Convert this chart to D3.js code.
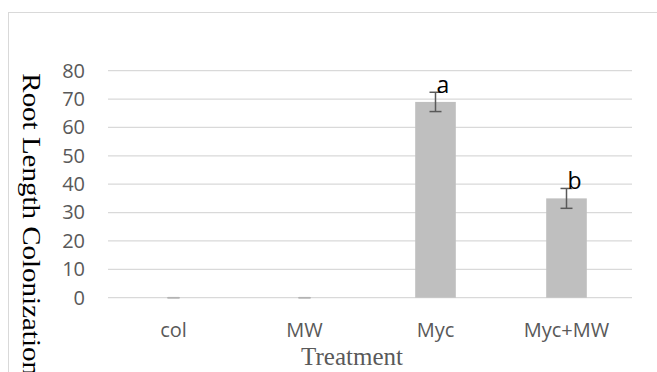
<!DOCTYPE html>
<html>
<head>
<meta charset="utf-8">
<script src="https://cdn.jsdelivr.net/npm/d3@7/dist/d3.min.js"></script>
<style>
  html, body { margin: 0; padding: 0; background: #fff; }
  svg { display: block; }
</style>
</head>
<body>
<svg id="chart" width="657" height="372"></svg>
<script>
// Root length colonization by treatment (mean ± error, letters = significance groups)
const categories = ["col", "MW", "Myc", "Myc+MW"];
const values = [0, 0, 69, 35];
const errors = [0, 0, 3.4, 3.5];
const groupLetters = ["", "", "a", "b"];
const yTicks = [0, 10, 20, 30, 40, 50, 60, 70, 80];

const svg = d3.select("#chart");

// outer chart frame
svg.append("rect")
  .attr("x", 8.5).attr("y", 12.5)
  .attr("width", 700).attr("height", 420)
  .attr("fill", "#fff")
  .attr("stroke", "#d9d9d9")
  .attr("stroke-width", 1);

const plot = { left: 108, right: 632, top: 70.7, bottom: 297.7 };

const x = d3.scaleBand()
  .domain(categories)
  .range([plot.left, plot.right])
  .padding(0);

const y = d3.scaleLinear()
  .domain([0, 80])
  .range([plot.bottom, plot.top]);

// horizontal gridlines
svg.append("g")
  .selectAll("line")
  .data(yTicks)
  .join("line")
  .attr("x1", plot.left).attr("x2", plot.right)
  .attr("y1", d => y(d)).attr("y2", d => y(d))
  .attr("stroke", "#d9d9d9")
  .attr("stroke-width", 1.2);

const labelFont = "'Open Sans', sans-serif";

// y axis labels
const yAxis = d3.axisLeft(y).tickValues(yTicks).tickSize(0).tickPadding(0);
const gy = svg.append("g")
  .attr("transform", `translate(${plot.left - 23},0)`)
  .call(yAxis);
gy.select(".domain").remove();
gy.selectAll("text")
  .attr("fill", "#595959")
  .style("font-family", labelFont)
  .style("font-size", "20px");

// x axis labels
const xAxis = d3.axisBottom(x).tickSize(0).tickPadding(0);
const gx = svg.append("g")
  .attr("transform", `translate(0,${plot.bottom + 25})`)
  .call(xAxis);
gx.select(".domain").remove();
gx.selectAll("text")
  .attr("fill", "#595959")
  .style("font-family", labelFont)
  .style("font-size", "20px");

// bars
const barW = x.bandwidth() * 0.31;
const rows = categories.map((c, i) => ({ c, v: values[i], e: errors[i], l: groupLetters[i] }));

svg.append("g")
  .selectAll("rect")
  .data(rows)
  .join("rect")
  .attr("x", d => x(d.c) + x.bandwidth() / 2 - barW / 2)
  .attr("y", d => y(d.v))
  .attr("width", barW)
  .attr("height", d => y(0) - y(d.v))
  .attr("fill", "#bfbfbf");

// error bars
const capW = 12;
const eg = svg.append("g");
rows.forEach(d => {
  const cx = x(d.c) + x.bandwidth() / 2;
  const col = d.e === 0 ? "#b3b3b3" : "#595959";
  const g = eg.append("g").attr("stroke", col).attr("stroke-width", 1.5);
  g.append("line").attr("x1", cx).attr("x2", cx).attr("y1", y(d.v + d.e)).attr("y2", y(d.v - d.e));
  g.append("line").attr("x1", cx - capW / 2).attr("x2", cx + capW / 2).attr("y1", y(d.v + d.e)).attr("y2", y(d.v + d.e));
  g.append("line").attr("x1", cx - capW / 2).attr("x2", cx + capW / 2).attr("y1", y(d.v - d.e)).attr("y2", y(d.v - d.e));
});

// significance letters
svg.append("g")
  .selectAll("text")
  .data(rows.filter(d => d.l))
  .join("text")
  .attr("x", d => x(d.c) + x.bandwidth() / 2 + 1)
  .attr("y", d => y(d.v + d.e) + 0.8)
  .attr("fill", "#000")
  .style("font-family", labelFont)
  .style("font-size", "23px")
  .text(d => d.l);

// axis titles
svg.append("text")
  .attr("x", 352).attr("y", 365)
  .attr("text-anchor", "middle")
  .attr("fill", "#595959")
  .style("font-family", "'Liberation Serif', 'Times New Roman', serif")
  .style("font-size", "25px")
  .text("Treatment");

svg.append("text")
  .attr("transform", "translate(22.7,73.3) rotate(90) scale(1,0.88)")
  .attr("text-anchor", "start")
  .attr("fill", "#000")
  .style("font-family", "'Liberation Serif', 'Times New Roman', serif")
  .style("font-size", "29px")
  .text("Root Length Colonization");
</script>
</body>
</html>
